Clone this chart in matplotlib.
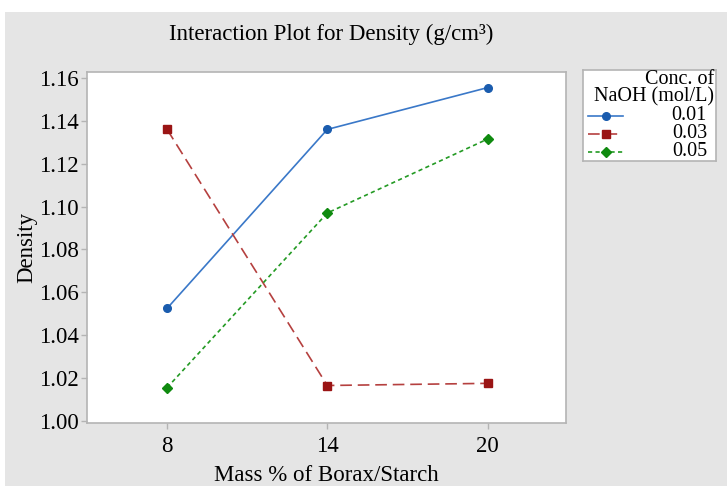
import numpy as np
import matplotlib
matplotlib.use('Agg')
import matplotlib.pyplot as plt
from matplotlib.patches import Rectangle

plt.rcParams['font.family'] = ['Liberation Serif', 'DejaVu Serif']

# data
mass = ['8', '14', '20']
conc = ['0.01', '0.03', '0.05']
dens_001 = [1.0525, 1.136, 1.1555]
dens_003 = [1.136, 1.0165, 1.0175]
dens_005 = [1.0155, 1.097, 1.1315]

series = [dens_001, dens_003, dens_005]
line_cols = ['#3a78c8', '#b5403f', '#239a23']
mark_cols = ['#1a5cae', '#9a1414', '#0f8a0f']
markers = ['o', 's', 'D']
msizes = [5.5, 6, 5.5]
dashes = [(None, None), (7, 3.5), (2.5, 2)]

grey = '#b4b4b4'
W, H = 727, 486

fig = plt.figure(figsize=(7.27, 4.86), dpi=100)
# grey panel with a thin white margin top/left
fig.patches.append(Rectangle((5 / W, 0), 1, 1 - 12 / H, transform=fig.transFigure,
                             facecolor='#e5e5e5', edgecolor='none', zorder=-10))

ax = fig.add_axes([87 / W, 1 - 423 / H, (566 - 87) / W, (423 - 72) / H])
ax.set_facecolor('white')

x = np.arange(len(mass))
lines = []
for vals, lc, mc, mk, ms, ds in zip(series, line_cols, mark_cols, markers, msizes, dashes):
    ln, = ax.plot(x, vals, color=lc, lw=1.2, marker=mk, ms=ms, mfc=mc, mec=mc)
    if ds[0] is not None:
        ln.set_dashes(ds)
    lines.append(ln)

ax.set_xlim(-0.5, 2.49)
ax.set_ylim(0.999, 1.1628)
ax.set_xticks(x)
ax.set_xticklabels(mass)
yt = np.arange(1.00, 1.161, 0.02)
ax.set_yticks(yt)
ax.set_yticklabels(['%.2f' % v for v in yt])
ax.tick_params(labelsize=16.5, color=grey, length=4, width=1, pad=2)
ax.tick_params(axis='x', pad=5)

for s in ax.spines.values():
    s.set_color(grey)
    s.set_linewidth(1.2)

ax.set_xlabel('Mass % of Borax/Starch', fontsize=16.5, labelpad=6)
ax.set_ylabel('Density', fontsize=16.5, labelpad=1)

fig.text(0.455, 1 - 34 / H, 'Interaction Plot for Density (g/cm³)',
         ha='center', va='center', fontsize=16.5)

# legend box drawn by hand (Minitab style: right-aligned title and labels)
lx0, lx1, ly0, ly1 = 583, 716, 70, 161
lg = fig.add_axes([lx0 / W, 1 - ly1 / H, (lx1 - lx0) / W, (ly1 - ly0) / H])
lg.set_xlim(0, lx1 - lx0)
lg.set_ylim(ly1 - ly0, 0)
lg.set_xticks([])
lg.set_yticks([])
for s in lg.spines.values():
    s.set_color(grey)
    s.set_linewidth(1.2)
tx = lx1 - lx0 - 2
lg.text(tx, 9, 'Conc. of', ha='right', va='center', fontsize=14.5)
lg.text(tx, 27, 'NaOH (mol/L)', ha='right', va='center', fontsize=14.5)
for i, (ln, lab) in enumerate(zip(lines, conc)):
    yy = 46 + 18 * i
    h, = lg.plot([5, 40], [yy, yy], color=ln.get_color(), lw=1.2)
    if dashes[i][0] is not None:
        h.set_dashes(dashes[i])
    lg.plot([22.5], [yy], marker=markers[i], ms=msizes[i], color=mark_cols[i], ls='none')
    lg.text(tx - 7, yy, lab, ha='right', va='center', fontsize=14.5)

fig.savefig('out.png', dpi=100)
